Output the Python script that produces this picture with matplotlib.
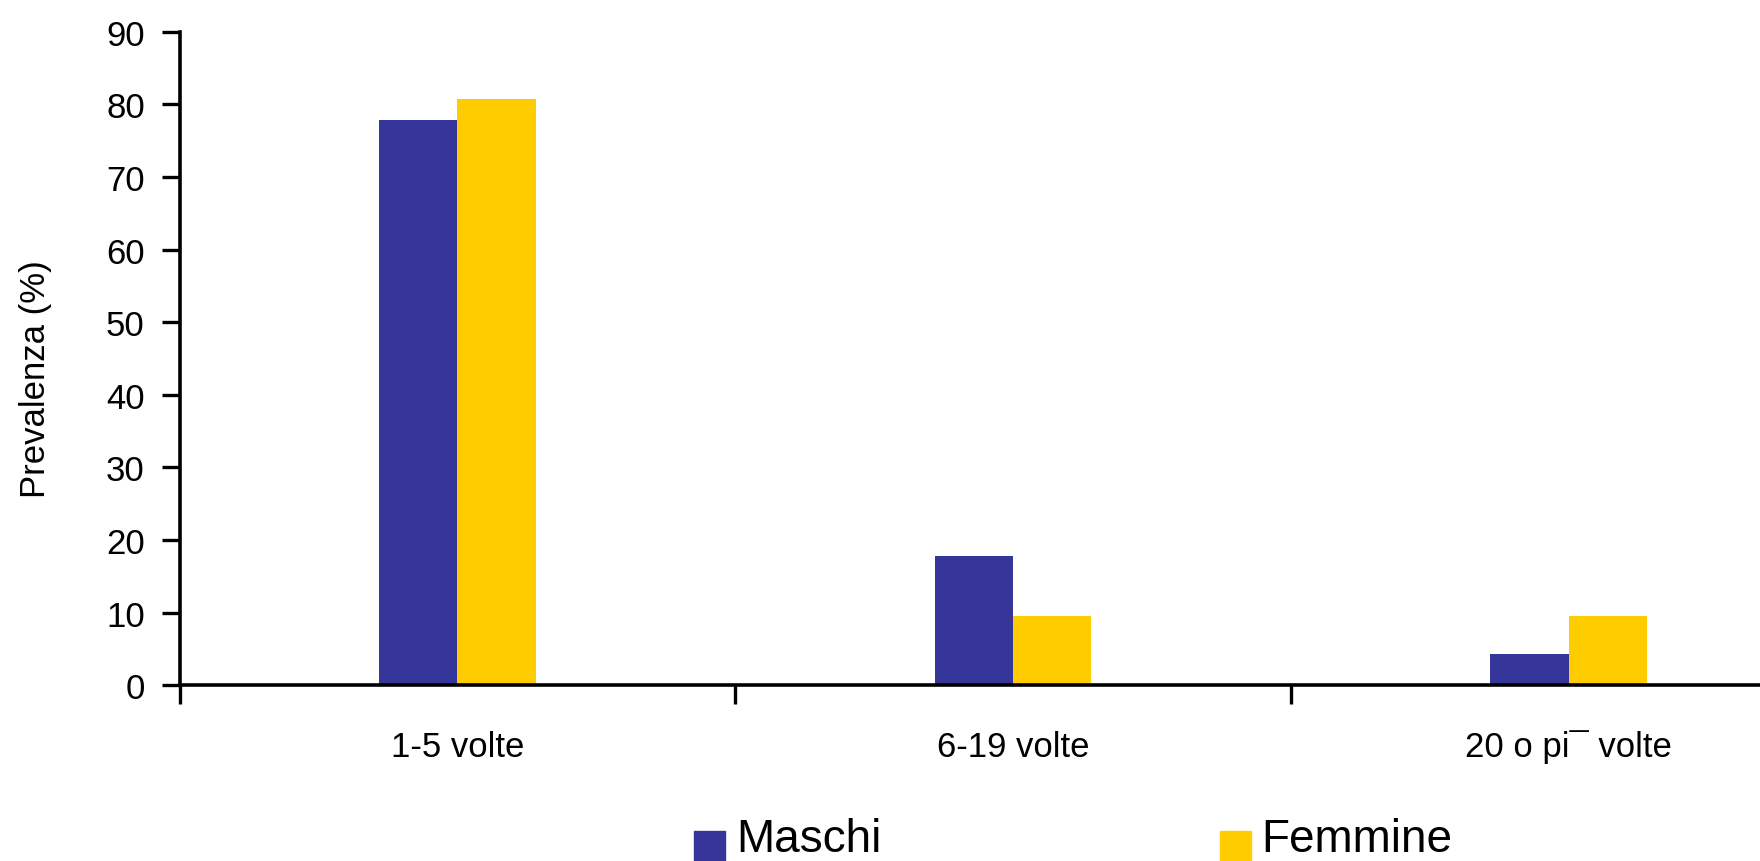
import matplotlib
matplotlib.use("Agg")
import matplotlib.pyplot as plt
from matplotlib.patches import Rectangle
import numpy as np

categories = ["1-5 volte", "6-19 volte", "20 o pi¯ volte"]
series_names = ["Maschi", "Femmine"]
maschi = [77.8, 17.8, 4.3]
femmine = [80.8, 9.5, 9.5]
yticks = [0, 10, 20, 30, 40, 50, 60, 70, 80, 90]

BLUE = "#35359A"
YELLOW = "#FFCC00"
colors = [BLUE, YELLOW]

plt.rcParams['font.family'] = ['Liberation Sans', 'DejaVu Sans']

W, H = 1760, 862
fig = plt.figure(figsize=(W / 100, H / 100), dpi=100)
ax = fig.add_axes([0.102, 0.204, 0.898, 0.758])

x = np.arange(len(categories))
w = 0.141
ax.bar(x - w / 2, maschi, w, color=BLUE)
ax.bar(x + w / 2, femmine, w, color=YELLOW)

ax.set_xlim(-0.5, 2.344)
ax.set_ylim(0, 90)
ax.set_yticks(yticks)
ax.set_yticklabels([str(t) for t in yticks], fontsize=25)
ax.set_xticks(x)
ax.set_xticklabels(categories, fontsize=25)
ax.tick_params(axis='x', which='major', length=0, pad=32)
ax.set_xticks([-0.5, 0.5, 1.5], minor=True)
ax.tick_params(axis='x', which='minor', length=14, width=2.4, direction='out')
ax.tick_params(axis='y', length=13, width=2.4, pad=12)

for s in ['top', 'right']:
    ax.spines[s].set_visible(False)
for s in ['left', 'bottom']:
    ax.spines[s].set_linewidth(2.6)
ax.spines['left'].set_bounds(0, 90)

ax.set_ylabel("Prevalenza (%)", fontsize=25)
ax.yaxis.set_label_coords(-0.081, 0.47)

# legend drawn manually at the bottom
sq_x = [694, 1220]
txt_x = [736, 1261]
for i, name in enumerate(series_names):
    fig.add_artist(Rectangle((sq_x[i] / W, 0.0), 31 / W, 30 / H,
                             transform=fig.transFigure, color=colors[i]))
    fig.text(txt_x[i] / W, 10 / H, name, fontsize=33, va='baseline', ha='left')

fig.savefig("out.png", dpi=100)
